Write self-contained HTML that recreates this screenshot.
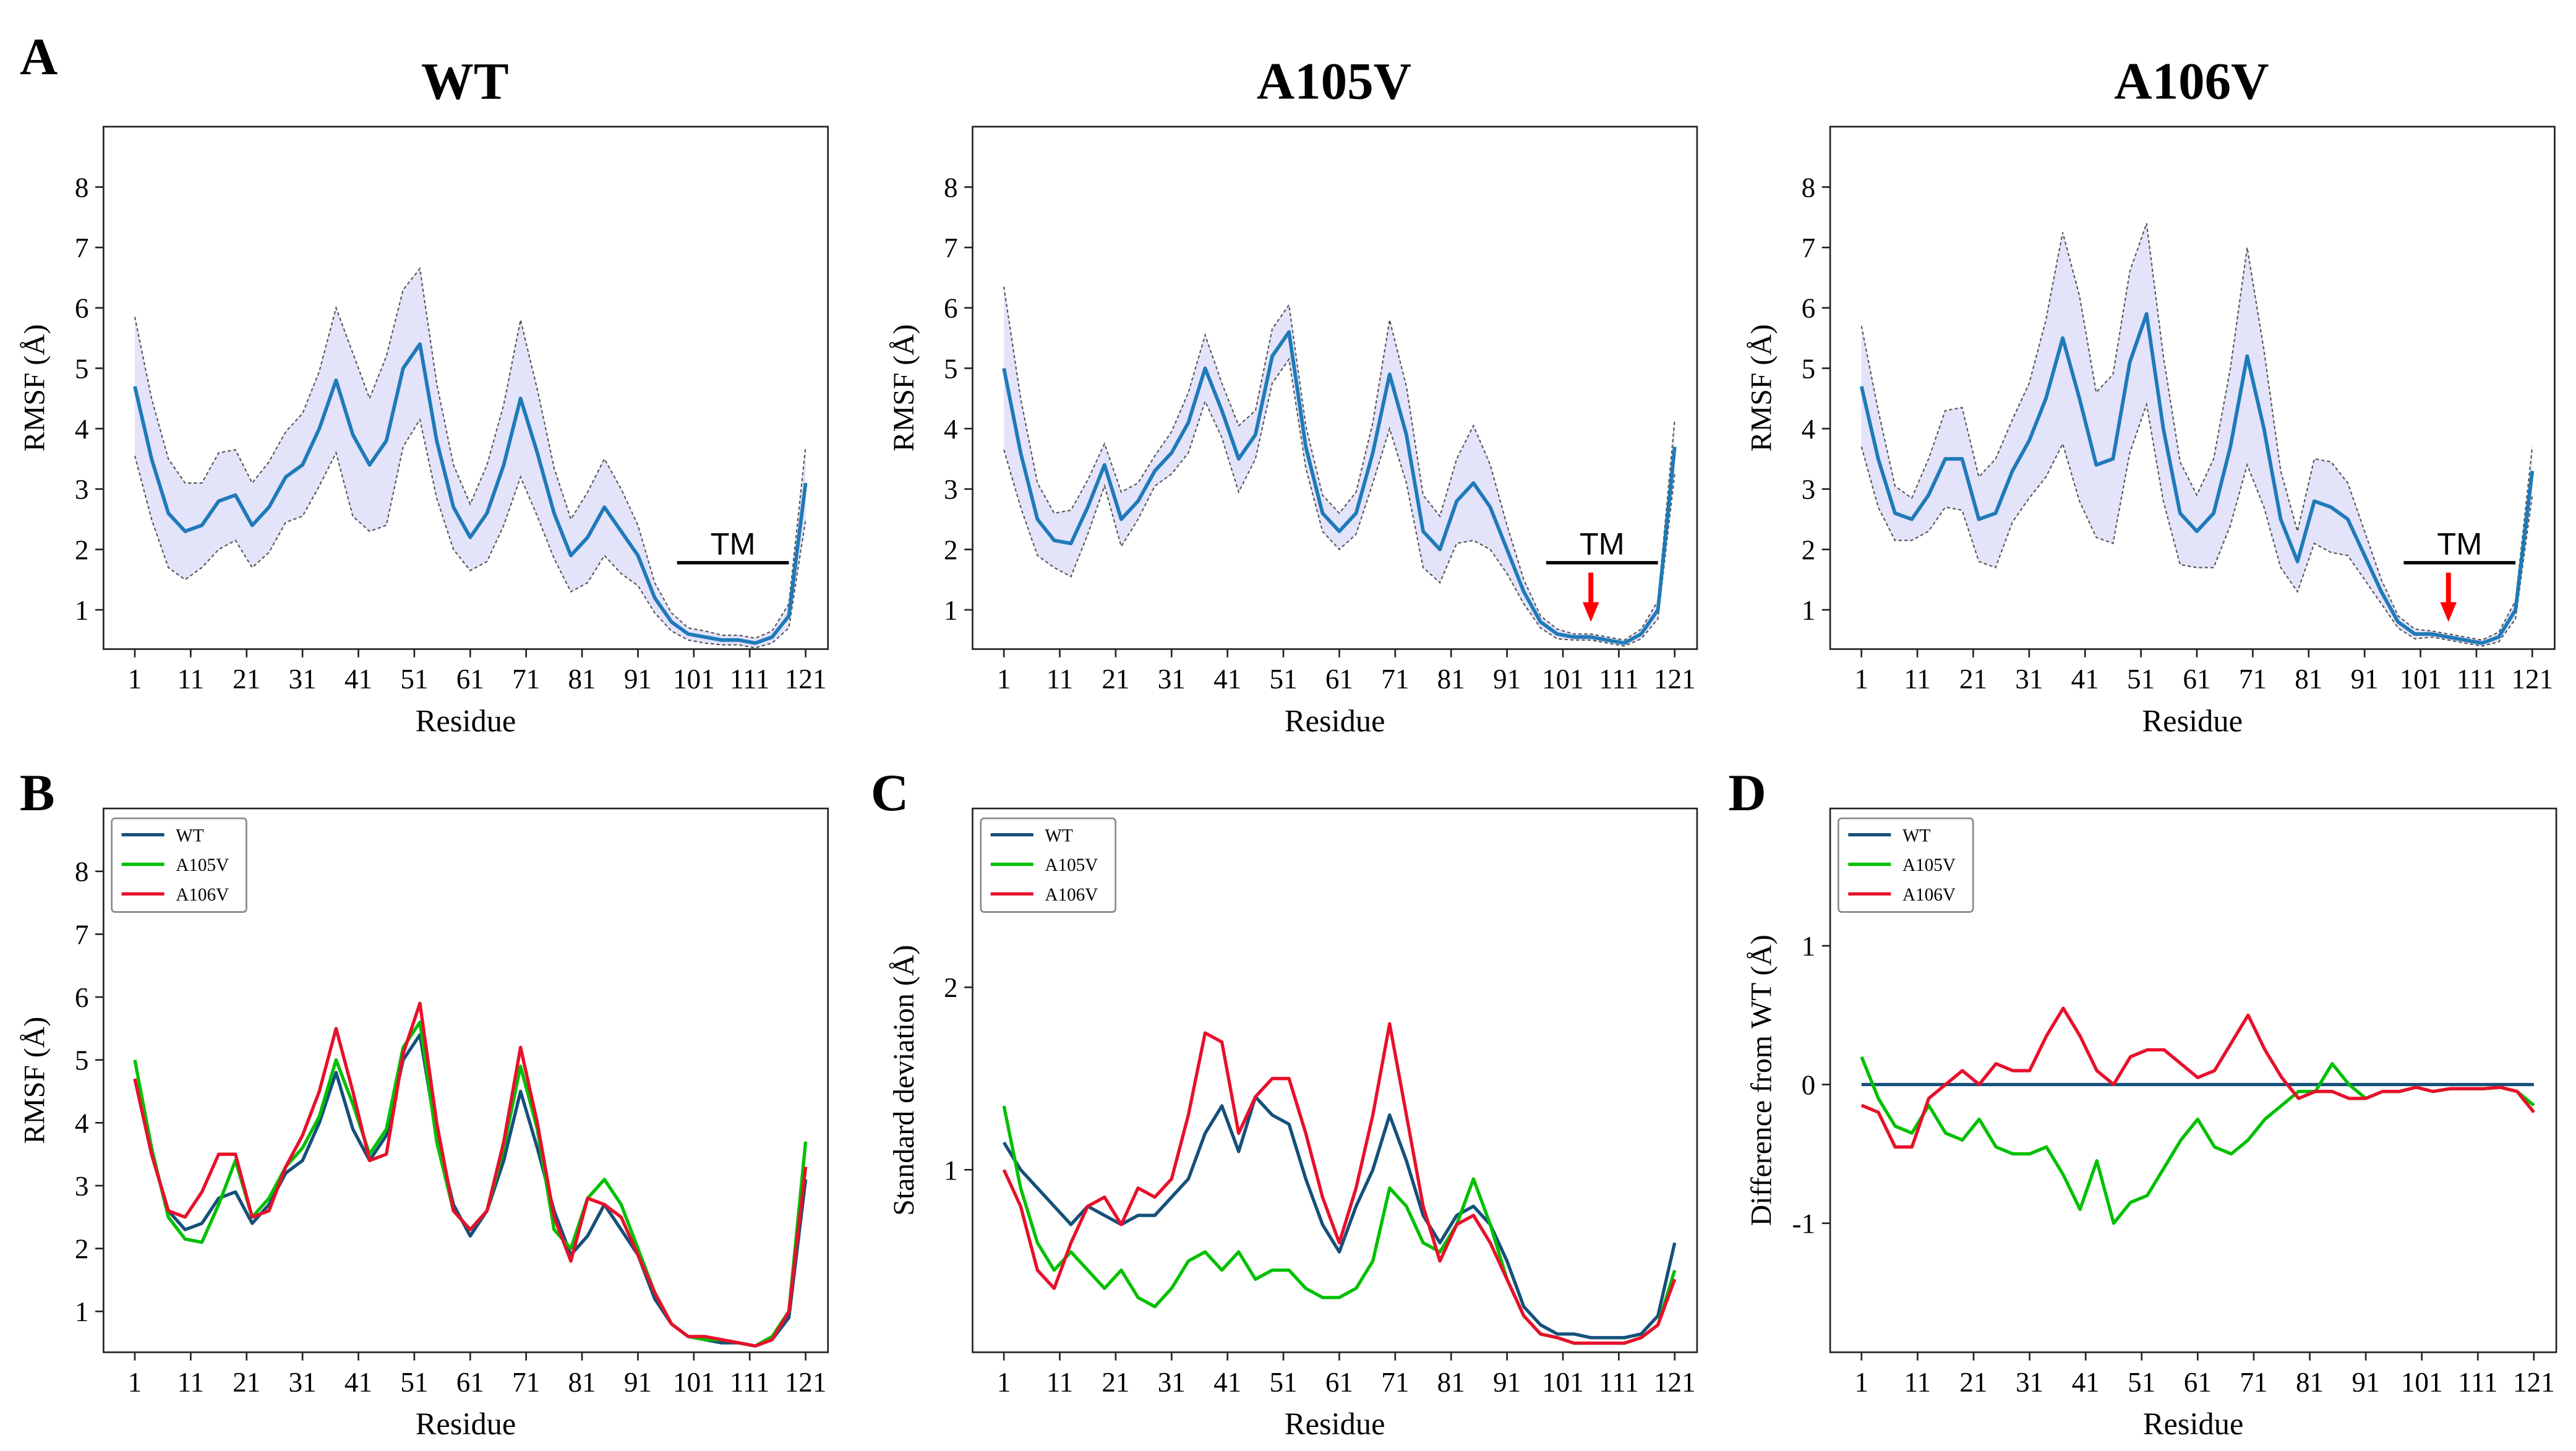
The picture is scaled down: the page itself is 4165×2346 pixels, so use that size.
<!DOCTYPE html>
<html><head><meta charset="utf-8"><style>
html,body{margin:0;padding:0;background:#fff;}
svg{display:block;font-family:"Liberation Serif",serif;}
</style></head><body>
<svg id="fig" xmlns="http://www.w3.org/2000/svg" width="4165" height="2346" viewBox="0 0 1568 883"></svg>
<script>
const residues=[1,4,7,10,13,16,19,22,25,28,31,34,37,40,43,46,49,52,55,58,61,64,67,70,73,76,79,82,85,88,91,94,97,100,103,106,109,112,115,118,121];
const wtMean=[4.7,3.5,2.6,2.3,2.4,2.8,2.9,2.4,2.7,3.2,3.4,4.0,4.8,3.9,3.4,3.8,5.0,5.4,3.8,2.7,2.2,2.6,3.4,4.5,3.6,2.6,1.9,2.2,2.7,2.3,1.9,1.2,0.8,0.6,0.55,0.5,0.5,0.45,0.55,0.9,3.1];
const wtSd=[1.15,1.0,0.9,0.8,0.7,0.8,0.75,0.7,0.75,0.75,0.85,0.95,1.2,1.35,1.1,1.4,1.3,1.25,0.95,0.7,0.55,0.8,1.0,1.3,1.05,0.75,0.6,0.75,0.8,0.7,0.5,0.25,0.15,0.1,0.1,0.08,0.08,0.08,0.1,0.2,0.6];
const a105Mean=[5.0,3.6,2.5,2.15,2.1,2.7,3.4,2.5,2.8,3.3,3.6,4.1,5.0,4.3,3.5,3.9,5.2,5.6,3.7,2.6,2.3,2.6,3.6,4.9,3.9,2.3,2.0,2.8,3.1,2.7,2.0,1.3,0.8,0.6,0.55,0.55,0.5,0.45,0.6,1.0,3.7];
const a105Sd=[1.35,0.9,0.6,0.45,0.55,0.45,0.35,0.45,0.3,0.25,0.35,0.5,0.55,0.45,0.55,0.4,0.45,0.45,0.35,0.3,0.3,0.35,0.5,0.9,0.8,0.6,0.55,0.7,0.95,0.7,0.4,0.2,0.1,0.08,0.05,0.05,0.05,0.05,0.08,0.15,0.45];
const a106Mean=[4.7,3.5,2.6,2.5,2.9,3.5,3.5,2.5,2.6,3.3,3.8,4.5,5.5,4.5,3.4,3.5,5.1,5.9,4.0,2.6,2.3,2.6,3.7,5.2,4.0,2.5,1.8,2.8,2.7,2.5,1.9,1.3,0.8,0.6,0.6,0.55,0.5,0.45,0.55,1.0,3.3];
const a106Sd=[1.0,0.8,0.45,0.35,0.6,0.8,0.85,0.7,0.9,0.85,0.95,1.3,1.75,1.7,1.2,1.4,1.5,1.5,1.2,0.85,0.6,0.9,1.3,1.8,1.3,0.8,0.5,0.7,0.75,0.6,0.4,0.2,0.1,0.08,0.05,0.05,0.05,0.05,0.08,0.15,0.4];
const xTicks=[1,11,21,31,41,51,61,71,81,91,101,111,121];
const rmsfTicks=[1,2,3,4,5,6,7,8];
const sdTicks=[1,2];
const diffTicks=[-1,0,1];
const seriesNames=["WT","A105V","A106V"];
const seriesColors=["#15507a","#00c000","#e8102a"];

const NS="http://www.w3.org/2000/svg";
const svg=document.getElementById('fig');
function mk(tag,attrs,parent,text){const e=document.createElementNS(NS,tag);for(const k in attrs)e.setAttribute(k,attrs[k]);if(text!==undefined)e.textContent=text;(parent||svg).appendChild(e);return e;}

function makeAxes(name,x0,x1,y0,y1,ymin,ymax,yticks,ylabel){
  const g=mk('g',{});
  
  
  const rx=(x1-x0)/129.6, xs=r=>x0+(r+4.6)*rx;
  const ys=v=>y1-(v-ymin)/(ymax-ymin)*(y1-y0);
  const box=mk('rect',{x:x0,y:y0,width:x1-x0,height:y1-y0,fill:'none',stroke:'#222','stroke-width':1},g);
  
  
  xTicks.forEach(t=>{
    mk('line',{x1:xs(t),x2:xs(t),y1:y1,y2:y1+5,stroke:'#222'},g);
    const tl=mk('text',{x:xs(t),y:y1+24,'text-anchor':'middle','font-size':17},g,String(t));
    
    
  });
  yticks.forEach(t=>{
    mk('line',{x1:x0-5,x2:x0,y1:ys(t),y2:ys(t),stroke:'#222'},g);
    const tl=mk('text',{x:x0-9,y:ys(t)+6,'text-anchor':'end','font-size':17},g,String(t));
    
    
  });
  const xt=mk('text',{x:(x0+x1)/2,y:y1+50,'text-anchor':'middle','font-size':19},g,'Residue');
  
  
  const cy=(y0+y1)/2;
  const yt=mk('text',{x:x0-36,y:cy,'text-anchor':'middle','font-size':18,transform:`rotate(-90 ${x0-36} ${cy})`},g,ylabel);
  
  
  return {g,xs,ys};
}
function linePath(ax,vals){return vals.map((v,i)=>(i?'L':'M')+ax.xs(residues[i]).toFixed(2)+' '+ax.ys(v).toFixed(2)).join(' ');}
function drawLine(ax,vals,color,w,name){
  const p=mk('path',{d:linePath(ax,vals),fill:'none',stroke:color,'stroke-width':w,'stroke-linejoin':'round'},ax.g);
  
  
}
function bandPanel(name,x0,mean,sd,arrow,title){
  const ax=makeAxes(name,x0,x0+441,77,395,0.35,9.0,rmsfTicks,'RMSF (Å)');
  const up=mean.map((m,i)=>m+sd[i]), lo=mean.map((m,i)=>Math.max(0.3,m-sd[i]));
  let d=linePath(ax,up)+' '+lo.slice().reverse().map((v,j)=>'L'+ax.xs(residues[residues.length-1-j]).toFixed(2)+' '+ax.ys(v).toFixed(2)).join(' ')+' Z';
  const band=mk('path',{d:d,fill:'#e3e3fa',stroke:'none'},ax.g);
  
  
  [up,lo].forEach(a=>{const e=mk('path',{d:linePath(ax,a),fill:'none',stroke:'#555','stroke-width':0.8,'stroke-dasharray':'2 1.5'},ax.g);
    });
  drawLine(ax,mean,'#1f7ab8',2.2,'mean-rmsf-line');
  const tmY=ax.ys(1.78);
  const tm=mk('line',{x1:ax.xs(98),x2:ax.xs(118),y1:tmY,y2:tmY,stroke:'#000','stroke-width':2},ax.g);
  
  const tt=mk('text',{x:ax.xs(108),y:tmY-5,'text-anchor':'middle','font-size':19,'font-family':'Liberation Sans, sans-serif'},ax.g,'TM');
  
  if(arrow){
    const ar=mk('g',{},ax.g);
    const xa=ax.xs(106);
    mk('line',{x1:xa,x2:xa,y1:tmY+6,y2:tmY+26,stroke:'#f00','stroke-width':3},ar);
    mk('path',{d:`M${xa-5} ${tmY+24} L${xa+5} ${tmY+24} L${xa} ${tmY+36} Z`,fill:'#f00'},ar);
  }
  const t=mk('text',{x:x0+220,y:60,'text-anchor':'middle','font-size':32,'font-weight':'bold'},svg,title);
  
}
function legend(ax,x0,y0){
  const g=mk('g',{},ax.g);
  mk('rect',{x:x0+5,y:y0+6,width:82,height:57,fill:'#fff',stroke:'#888','stroke-width':1,rx:2},g);
  seriesNames.forEach((n,i)=>{
    const e=mk('g',{},g);
    const y=y0+16+i*18;
    mk('line',{x1:x0+11,x2:x0+37,y1:y,y2:y,stroke:seriesColors[i],'stroke-width':2},e);
    mk('text',{x:x0+44,y:y+4,'font-size':11},e,n);
  });
}
function letter(t,x,y){const e=mk('text',{x:x,y:y,'font-size':32,'font-weight':'bold'},svg,t);}

bandPanel('panel-a-wt',63,wtMean,wtSd,false,'WT');
bandPanel('panel-a-a105v',592,a105Mean,a105Sd,true,'A105V');
bandPanel('panel-a-a106v',1114,a106Mean,a106Sd,true,'A106V');

const axB=makeAxes('panel-b-rmsf',63,504,492,823,0.35,9.0,rmsfTicks,'RMSF (Å)');
[wtMean,a105Mean,a106Mean].forEach((s,i)=>drawLine(axB,s,seriesColors[i],2,'rmsf-line-'+seriesNames[i].toLowerCase()));
legend(axB,63,492);

const axC=makeAxes('panel-c-sd',592,1033,492,823,0,2.98,sdTicks,'Standard deviation (Å)');
[wtSd,a105Sd,a106Sd].forEach((s,i)=>drawLine(axC,s,seriesColors[i],2,'sd-line-'+seriesNames[i].toLowerCase()));
legend(axC,592,492);

const axD=makeAxes('panel-d-diff',1114,1556,492,823,-1.93,1.99,diffTicks,'Difference from WT (Å)');
drawLine(axD,wtSd.map(()=>0),seriesColors[0],2,'diff-line-wt');
drawLine(axD,a105Sd.map((v,i)=>v-wtSd[i]),seriesColors[1],2,'diff-line-a105v');
drawLine(axD,a106Sd.map((v,i)=>v-wtSd[i]),seriesColors[2],2,'diff-line-a106v');
legend(axD,1114,492);

letter('A',12,45);letter('B',12,493);letter('C',530,493);letter('D',1052,493);
</script>
</body></html>
